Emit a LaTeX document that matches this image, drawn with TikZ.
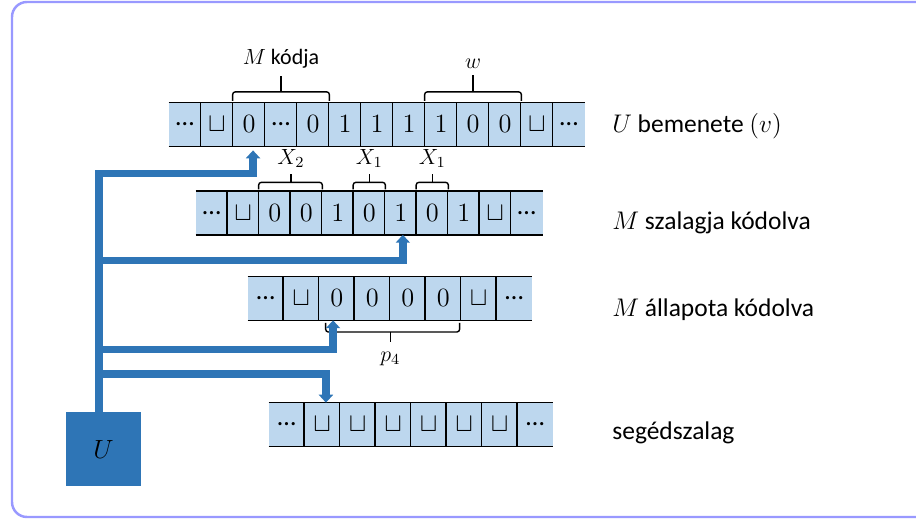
\RequirePackage{fix-cm}
\documentclass[tikz,border=0pt]{standalone}
\usepackage[no-math]{fontspec}
\setmainfont{Carlito}
\usetikzlibrary{arrows.meta}

\definecolor{tapefill}{RGB}{189,215,238}
\definecolor{ublue}{RGB}{46,117,182}
\definecolor{framecol}{RGB}{153,153,255}

\begin{document}
\begin{tikzpicture}[
        x=0.02cm, y=-0.02cm,
        cell/.style={rectangle,fill=tapefill,inner sep=0pt,minimum height=0.86cm,minimum width=#1,font=\fontsize{15}{18}\selectfont},
        brace/.style={thick,rounded corners=1.5pt},
        bracelabel/.style={font=\fontsize{12.5}{15}\selectfont},
        link/.style={draw=ublue,line width=4.3pt,-{Triangle[width=8pt,length=4.5pt]}},
        caption/.style={anchor=base west,inner sep=0pt,font=\fontsize{14.5}{17}\selectfont}
    ]
    \useasboundingbox (0,0) rectangle (916,519);
    \draw [framecol,line width=1.4pt,rounded corners=8.5pt] (12,2) rectangle (940,517);

    % input tape
    \foreach \s [count=\i from 0] in {\mbox{\ldots},\sqcup,0,\mbox{\ldots},0,1,1,1,1,0,0,\sqcup,\mbox{\ldots}}
        \node [cell=0.64cm] (bem\i) at (185+32*\i,124.5) {$\s$};
    \draw [thick] (bem0.north west) -- (bem12.north east) (bem0.south west) -- (bem12.south east);
    \foreach \i in {1,...,12}
        \draw [thick] (bem\i.north west) -- (bem\i.south west);

    % tape of M
    \foreach \s [count=\i from 0] in {\mbox{\ldots},\sqcup,0,0,1,0,1,0,1,\sqcup,\mbox{\ldots}}
        \node [cell=0.63cm] (szal\i) at (211.75+31.5*\i,213) {$\s$};
    \draw [thick] (szal0.north west) -- (szal10.north east) (szal0.south west) -- (szal10.south east);
    \foreach \i in {1,...,10}
        \draw [thick] (szal\i.north west) -- (szal\i.south west);

    % state of M
    \foreach \s [count=\i from 0] in {\mbox{\ldots},\sqcup,0,0,0,0,\sqcup,\mbox{\ldots}}
        \node [cell=0.71cm] (all\i) at (265.75+35.5*\i,298.5) {$\s$};
    \draw [thick] (all0.north west) -- (all7.north east) (all0.south west) -- (all7.south east);
    \foreach \i in {1,...,7}
        \draw [thick] (all\i.north west) -- (all\i.south west);

    % work tape
    \foreach \s [count=\i from 0] in {\mbox{\ldots},\sqcup,\sqcup,\sqcup,\sqcup,\sqcup,\sqcup,\mbox{\ldots}}
        \node [cell=0.71cm] (seg\i) at (286.75+35.5*\i,424.5) {$\s$};
    \draw [thick] (seg0.north west) -- (seg7.north east) (seg0.south west) -- (seg7.south east);
    \foreach \i in {1,...,7}
        \draw [thick] (seg\i.north west) -- (seg\i.south west);

    % braces
    \draw [brace] ([yshift=1pt]bem2.north west) -- ++(0,-9) -| ([yshift=1pt]bem4.north east);
    \draw [brace] ([yshift=6pt]bem3.north) -- ++(0,-16) node[above=1pt,bracelabel]{$M$ kódja};
    \draw [brace] ([yshift=1pt]bem8.north west) -- ++(0,-9) -| ([yshift=1pt]bem10.north east);
    \draw [brace] ([yshift=6pt]bem9.north) -- ++(0,-17) node[above=0pt,bracelabel]{$w$};

    \draw [brace] ([yshift=1pt]szal2.north west) -- ++(0,-7) -| ([yshift=1pt]szal3.north east);
    \draw [brace] ([yshift=4.9pt]szal2.north east) -- ++(0,-8.5) node[above=0pt,bracelabel]{$X_2$};
    \draw [brace] ([yshift=1pt]szal5.north west) -- ++(0,-7) -| ([yshift=1pt]szal5.north east);
    \draw [brace] ([yshift=4.9pt]szal5.north) -- ++(0,-8.5) node[above=0pt,bracelabel]{$X_1$};
    \draw [brace] ([yshift=1pt]szal7.north west) -- ++(0,-7) -| ([yshift=1pt]szal7.north east);
    \draw [brace] ([yshift=4.9pt]szal7.north) -- ++(0,-8.5) node[above=0pt,bracelabel]{$X_1$};

    \draw [brace] ([shift={(4pt,-1.5pt)}]all2.south west) -- ++(0,9) -| ([shift={(-1pt,-1.5pt)}]all5.south east);
    \draw [brace] ([yshift=-6.5pt]all3.south east) -- ++(0,10) node[below=2pt,bracelabel]{$p_4$};

    % the machine and its heads
    \node [fill=ublue,inner sep=0pt,minimum width=1.5cm,minimum height=1.48cm,font=\fontsize{15}{18}\selectfont] (U) at (103.5,449) {$U$};
    \coordinate (trunk) at ([xshift=-2.5pt]U.north);
    \coordinate (h1) at (0,173.5);
    \coordinate (h2) at (0,260.5);
    \coordinate (h3) at (0,349.5);
    \coordinate (h4) at (0,374);
    \foreach \tgt/\lvl/\dx/\dy in {bem2.south/h1/2.3pt/-2.3pt, szal6.south/h2/1.2pt/0pt, all2.south/h3/-2.1pt/0pt, seg1.north/h4/2.1pt/0pt}
        \draw [link] (trunk) |- ([xshift=\dx]\tgt |- \lvl) -- ([shift={(\dx,\dy)}]\tgt);

    \node [caption] (cbem)  at (612,133) {$U$ bemenete $(v)$};
    \node [caption] (cszal) at (612,230) {$M$ szalagja kódolva};
    \node [caption] (call)  at (612,317) {$M$ állapota kódolva};
    \node [caption] (cseg)  at (612,440) {segédszalag};
\end{tikzpicture}
\end{document}
